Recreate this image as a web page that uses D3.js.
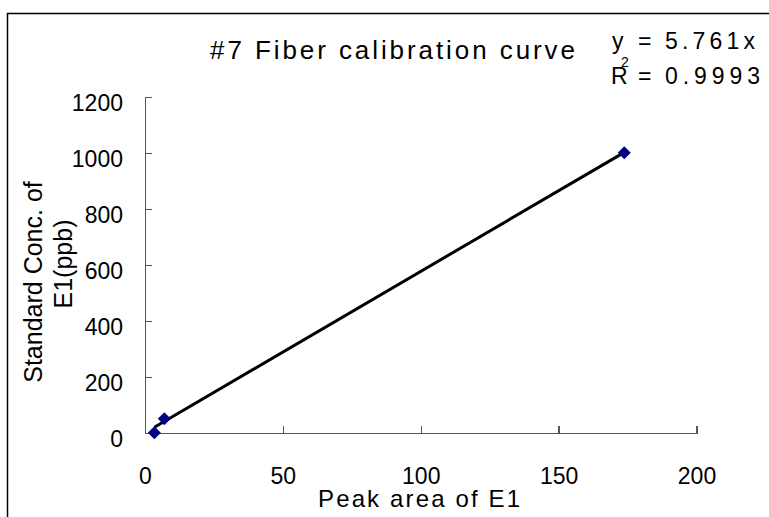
<!DOCTYPE html>
<html>
<head>
<meta charset="utf-8">
<script src="https://cdn.jsdelivr.net/npm/d3@7"></script>
<style>
    body { margin: 0; background: #fff; }
    .chart text { font-family: "Liberation Sans", Arial, sans-serif; fill: #000; }
    .axis path, .axis line { stroke: #555; stroke-width: 1.3px; shape-rendering: crispEdges; }
    .axis text { font-size: 23px; }
</style>
</head>
<body>
<svg class="chart" width="769" height="517"></svg>
<script>
// values
var peakArea = [3.4, 7.0, 173.8];
var stdConc = [0, 50, 1000];
var xTicks = [0, 50, 100, 150, 200];
var yTicks = [0, 200, 400, 600, 800, 1000, 1200];
var slope = 5.761;   // trendline y = 5.761x
var rSquared = "0.9993";

var svg = d3.select(".chart");

var data = peakArea.map(function(a, i) { return { area: a, conc: stdConc[i] }; });

var x = d3.scaleLinear()
    .domain([0, 200])
    .range([145, 696.5]);
var y = d3.scaleLinear()
    .domain([0, 1200])
    .range([432.7, 96.7]);

// chart frame (only top and left edges show in the picture)
svg.append("path")
    .attr("d", "M7.5,600V13.5H800")
    .attr("fill", "none")
    .attr("stroke", "#000")
    .attr("stroke-width", 1.5);

var xAxis = d3.axisBottom(x)
    .tickValues(xTicks)
    .tickFormat(d3.format("d"))
    .tickSizeInner(-7)
    .tickSizeOuter(-7)
    .tickPadding(35);
var yAxis = d3.axisLeft(y)
    .tickValues(yTicks)
    .tickFormat(d3.format("d"))
    .tickSizeInner(-7)
    .tickSizeOuter(-7)
    .tickPadding(22);

svg.append("g")
    .attr("class", "x axis")
    .attr("transform", "translate(0," + y(0) + ")")
    .call(xAxis)
    .call(function(g) { g.selectAll("text").attr("font-family", null).attr("font-size", null); });

svg.append("g")
    .attr("class", "y axis")
    .attr("transform", "translate(" + x(0) + ",0)")
    .call(yAxis)
    .call(function(g) { g.selectAll("text").attr("font-family", null).attr("font-size", null).attr("dy", "0.6em"); });

// trendline over the data range
var xMin = d3.min(peakArea), xMax = d3.max(peakArea);
svg.append("line")
    .attr("x1", x(xMin))
    .attr("y1", y(slope * xMin))
    .attr("x2", x(xMax))
    .attr("y2", y(slope * xMax))
    .attr("stroke", "#000")
    .attr("stroke-width", 3);

// diamond markers
svg.selectAll(".pt")
    .data(data)
    .enter().append("path")
    .attr("class", "pt")
    .attr("d", d3.symbol(d3.symbolSquare, 85))
    .attr("transform", function(d) { return "translate(" + x(d.area) + "," + y(d.conc) + ") rotate(45)"; })
    .attr("fill", "#000080");

// title
svg.append("text")
    .attr("x", 210)
    .attr("y", 59)
    .attr("font-size", 26)
    .attr("textLength", 365)
    .attr("lengthAdjust", "spacing")
    .text("#7 Fiber calibration curve");

// trendline equation, placed piece by piece
function eqPart(txt, px, py, size, len) {
    var t = svg.append("text")
        .attr("x", px)
        .attr("y", py)
        .attr("font-size", size)
        .text(txt);
    if (len) t.attr("textLength", len).attr("lengthAdjust", "spacing");
    return t;
}
eqPart("y", 612, 49, 23);
eqPart("=", 638, 49, 23);
eqPart(String(slope) + "x", 665, 49, 23, 90);
eqPart("R", 611, 84, 23);
eqPart("2", 621, 67, 14);
eqPart("=", 638, 84, 23);
eqPart(rSquared, 665, 84, 23, 95);

// axis titles
svg.append("text")
    .attr("x", 318)
    .attr("y", 507)
    .attr("font-size", 24)
    .attr("textLength", 202)
    .attr("lengthAdjust", "spacing")
    .text("Peak area of E1");

svg.append("text")
    .attr("transform", "translate(42,282) rotate(-90)")
    .attr("text-anchor", "middle")
    .attr("font-size", 25)
    .text("Standard Conc. of");
svg.append("text")
    .attr("transform", "translate(72,264) rotate(-90)")
    .attr("text-anchor", "middle")
    .attr("font-size", 25)
    .text("E1(ppb)");
</script>
</body>
</html>
